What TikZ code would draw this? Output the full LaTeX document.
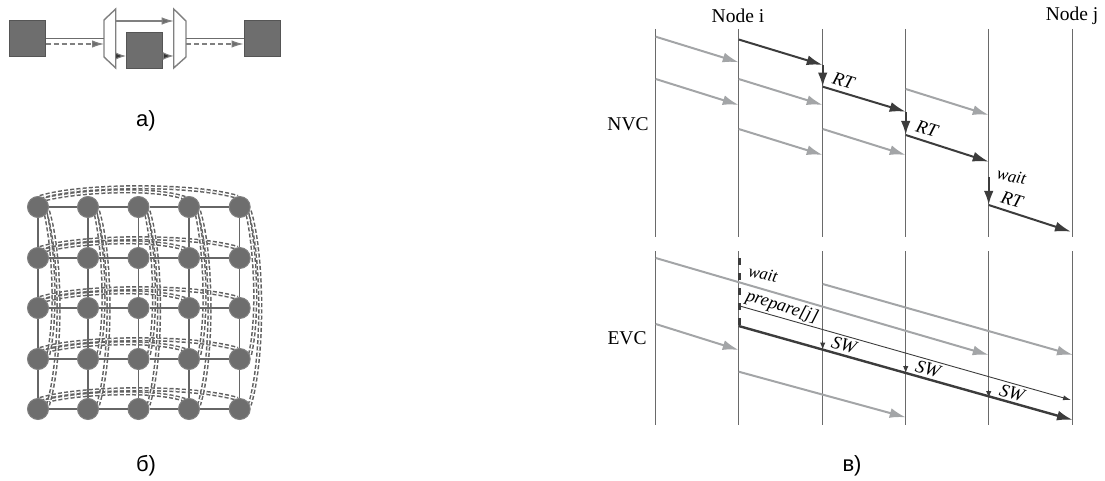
\documentclass[tikz,border=0pt]{standalone}
\usepackage{fontspec}
\setmainfont{Liberation Serif}
\newfontfamily\lblfont{Liberation Sans}
\usetikzlibrary{arrows.meta,calc}
\definecolor{sq}{HTML}{6E6E6E}
\definecolor{sqb}{HTML}{555555}
\definecolor{life}{HTML}{6A6A6A}
\definecolor{lg}{HTML}{A3A5A7}
\definecolor{dk}{HTML}{3C3C3C}
\tikzset{
  box/.style={draw=sqb,fill=sq,line width=1pt,minimum size=36pt,inner sep=0pt},
  mux/.style={draw=gray,fill=white,line width=1.4pt,line join=miter},
  link/.style={draw=gray!85!black,line width=1.5pt},
  dlink/.style={draw=gray,line width=1.2pt,dash pattern=on 5pt off 3pt,-{Latex[length=12pt,width=7.5pt,fill=gray!85!black]}},
  tlink/.style={draw=gray,line width=1.1pt,-{Latex[length=12pt,width=7.5pt,fill=gray!85!black]}},
  ilink/.style={draw=gray,line width=1.1pt,-{Latex[length=11pt,width=8pt,fill=black!80]}},
  router/.style={circle,draw=gray,fill=sq,line width=1pt,minimum size=21pt,inner sep=0pt},
  gridline/.style={draw=black!60,line width=1.2pt},
  wrap/.style={draw=gray!75!black,line width=1.5pt,double=white,double distance=1.3pt,dash pattern=on 4pt off 2.2pt},
  lifeline/.style={draw=life,line width=1.2pt},
  lt/.style={draw=lg,line width=2pt,-{Latex[length=16pt,width=10pt]}},
  dkt/.style={draw=dk,line width=2pt,-{Latex[length=16pt,width=10pt]}},
  dkv/.style={draw=dk,line width=2.2pt,-{Latex[length=14pt,width=9.5pt]}},
  msgthin/.style={draw=dk,line width=0.9pt,-{Latex[length=8pt,width=5pt]}},
  smallv/.style={draw=dk,line width=1pt,-{Latex[length=7pt,width=5.5pt]}},
  txt/.style={font=\fontsize{19.5}{19.5}\selectfont,inner sep=0pt},
  ital/.style={font=\fontsize{18.5}{18.5}\selectfont\itshape,inner sep=0pt,rotate=-17},
  wt/.style={font=\fontsize{17}{17}\selectfont\itshape,inner sep=0pt,rotate=-12},
  capt/.style={font=\fontsize{22}{22}\selectfont\lblfont,inner sep=0pt}
}
\begin{document}
\begin{tikzpicture}[x=1pt,y=-1pt]
\useasboundingbox (0,0) rectangle (1105,481);
% ---- panel a
\node[box] (srcA) at (27,38.5) {};
\node[box] (dstA) at (262,38.5) {};
\node[box] (midA) at (144.5,51) {};
\draw[mux] (115.7,9) -- (104,20) coordinate (la) -- (104,57) -- (115.7,68) -- cycle;
\draw[mux] (173.7,9) -- (186,21) coordinate (ra) -- (186,57) -- (173.7,68) -- cycle;
\coordinate (lx) at (115.7,21); \coordinate (rx) at (173.7,21);
\coordinate (ly) at (115.7,56); \coordinate (ry) at (173.7,56);
\draw[link] (srcA.east) -- (srcA.east -| la);
\draw[link] (dstA.west -| ra) -- (dstA.west);
\draw[dlink] ([yshift=-5.5pt]srcA.east) -- ([yshift=-5.5pt]srcA.east -| la);
\draw[dlink] ([yshift=-5.5pt]dstA.west -| ra) -- ([yshift=-5.5pt]dstA.west);
\draw[tlink] (lx) -- (rx);
\draw[ilink] (ly) -- (ly -| midA.west);
\draw[ilink] (ry -| midA.east) -- (ry);
\node[capt] (capA) at (146,121) {а)};
% ---- panel b
\foreach \r/\y in {0/207,1/258,2/308,3/359,4/409}
  \foreach \c/\x in {0/38,1/88,2/138.5,3/189,4/239.7}
    \coordinate (p-\r-\c) at (\x,\y);
\foreach \r in {0,...,4}{
  \draw[wrap] ($(p-\r-0)+(2,-10)$) .. controls ($(p-\r-0)+(45,-23)$) and ($(p-\r-4)+(-45,-23)$) .. ($(p-\r-4)+(-2,-10)$);
  \draw[wrap] ($(p-\r-0)+(8,-8)$) .. controls ($(p-\r-0)+(40,-16)$) and ($(p-\r-3)+(-35,-20)$) .. ($(p-\r-3)+(-4,-9)$);
}
\foreach \c in {0,...,4}{
  \draw[wrap] ($(p-0-\c)+(10,4)$) .. controls ($(p-0-\c)+(24,50)$) and ($(p-4-\c)+(24,-50)$) .. ($(p-4-\c)+(10,-4)$);
  \draw[wrap] ($(p-0-\c)+(8,8)$) .. controls ($(p-0-\c)+(16,45)$) and ($(p-3-\c)+(19,-40)$) .. ($(p-3-\c)+(10,-3)$);
}
\foreach \r/\y in {0/207,1/258,2/308,3/359,4/409}
  \foreach \c/\x in {0/38,1/88,2/138.5,3/189,4/239.7}
    \node[router] (n-\r-\c) at (\x,\y) {};
\foreach \r in {0,...,4}
  \foreach \c/\d in {0/1,1/2,2/3,3/4}{
    \draw[gridline] (n-\r-\c) -- (n-\r-\d);
    \draw[gridline] (n-\c-\r) -- (n-\d-\r);
  }
\node[capt] (capB) at (146,466) {б)};
% ---- panel c: lifelines
\foreach \k/\x in {0/655.7,1/738.7,2/822.7,3/905.7,4/988.7,5/1072.7}{
  \coordinate (t\k) at (\x,29); \coordinate (m\k) at (\x,237);
  \coordinate (u\k) at (\x,251); \coordinate (b\k) at (\x,425);
  \draw[lifeline] (t\k) -- (m\k);
  \draw[lifeline] (u\k) -- (b\k);
}
\node[txt] (ni) at (738,16) {Node i};
\node[txt] (nj) at (1072,16) {Node j};
\node[txt] (nvc) at (628,124) {NVC};
\node[txt] (evc) at (627,338) {EVC};
% NVC light messages
\coordinate (a1) at (655.7,36.7); \coordinate (a2) at (738.7,62.3); \draw[lt] (a1) -- (a2);
\coordinate (a3) at (655.7,79);  \coordinate (a4) at (738.7,105); \draw[lt] (a3) -- (a4);
\coordinate (a5) at (738.7,79);  \coordinate (a6) at (822.7,105); \draw[lt] (a5) -- (a6);
\coordinate (a7) at (738.7,129); \coordinate (a8) at (822.7,155); \draw[lt] (a7) -- (a8);
\coordinate (a9) at (822.7,129); \coordinate (a10) at (905.7,155); \draw[lt] (a9) -- (a10);
\coordinate (a11) at (905.7,89); \coordinate (a12) at (988.7,115); \draw[lt] (a11) -- (a12);
% NVC dark path
\coordinate (d0) at (738.7,39.5);
\coordinate (d1) at (822.7,65);
\coordinate (d2) at (822.7,86.7);
\coordinate (d3) at (905.7,111.7);
\coordinate (d4) at (905.7,135);
\coordinate (d5) at (988.7,161.7);
\coordinate (d6) at (988.7,177);
\coordinate (d7) at (988.7,205);
\coordinate (d8) at (1071,231.7);
\draw[dkt] (d0) -- (d1);
\draw[dkv] (d1) -- (d2);
\draw[dkt] (d2) -- (d3);
\draw[dkv] (d3) -- (d4);
\draw[dkt] (d4) -- (d5);
\draw[dkv] (d6) -- (d7);
\draw[dkt] (d7) -- (d8);
\node[ital] (rt1) at (843.5,80.5) {RT};
\node[ital] (rt2) at (927,129) {RT};
\node[ital] (rt3) at (1012,200) {RT};
\node[wt] (w1) at (1011.5,176.5) {wait};
% EVC
\coordinate (e1) at (655.7,258); \coordinate (e2) at (988.7,355); \draw[lt] (e1) -- (e2);
\coordinate (e3) at (822.7,284); \coordinate (e4) at (1073,355); \draw[lt] (e3) -- (e4);
\coordinate (e5) at (655.7,324); \coordinate (e6) at (738.7,350); \draw[lt] (e5) -- (e6);
\coordinate (e7) at (738.7,371.7); \coordinate (e8) at (905.7,417.3); \draw[lt] (e7) -- (e8);
\coordinate (w0) at (739.3,258); \coordinate (w2) at (739.3,326);
\draw[draw=dk,line width=3.5pt,dash pattern=on 7pt off 8pt] (w0) -- (w2);
\coordinate (s0) at (738.7,326); \coordinate (s1) at (1073,420);
\draw[dkt,line width=2.4pt] (s0) -- (s1);
\coordinate (pr0) at (738.7,305.7); \coordinate (pr1) at (1071,400);
\draw[msgthin] (pr0) -- (pr1);
\coordinate (v1) at (822.7,341); \coordinate (v1e) at (822.7,349.5); \draw[smallv] (v1) -- (v1e);
\coordinate (v2) at (905.7,365); \coordinate (v2e) at (905.7,373); \draw[smallv] (v2) -- (v2e);
\coordinate (v3) at (988.7,390); \coordinate (v3e) at (988.7,398); \draw[smallv] (v3) -- (v3e);
\node[wt] (w3) at (763,274) {wait};
\node[wt,rotate=-5,font=\fontsize{18}{18}\selectfont\itshape] (pj) at (782,307) {prepare[j]};
\node[ital] (s1l) at (844,345) {SW};
\node[ital] (s2l) at (928,369) {SW};
\node[ital] (s3l) at (1012,393) {SW};
\node[capt] (capC) at (852,466) {в)};
\end{tikzpicture}
\end{document}
